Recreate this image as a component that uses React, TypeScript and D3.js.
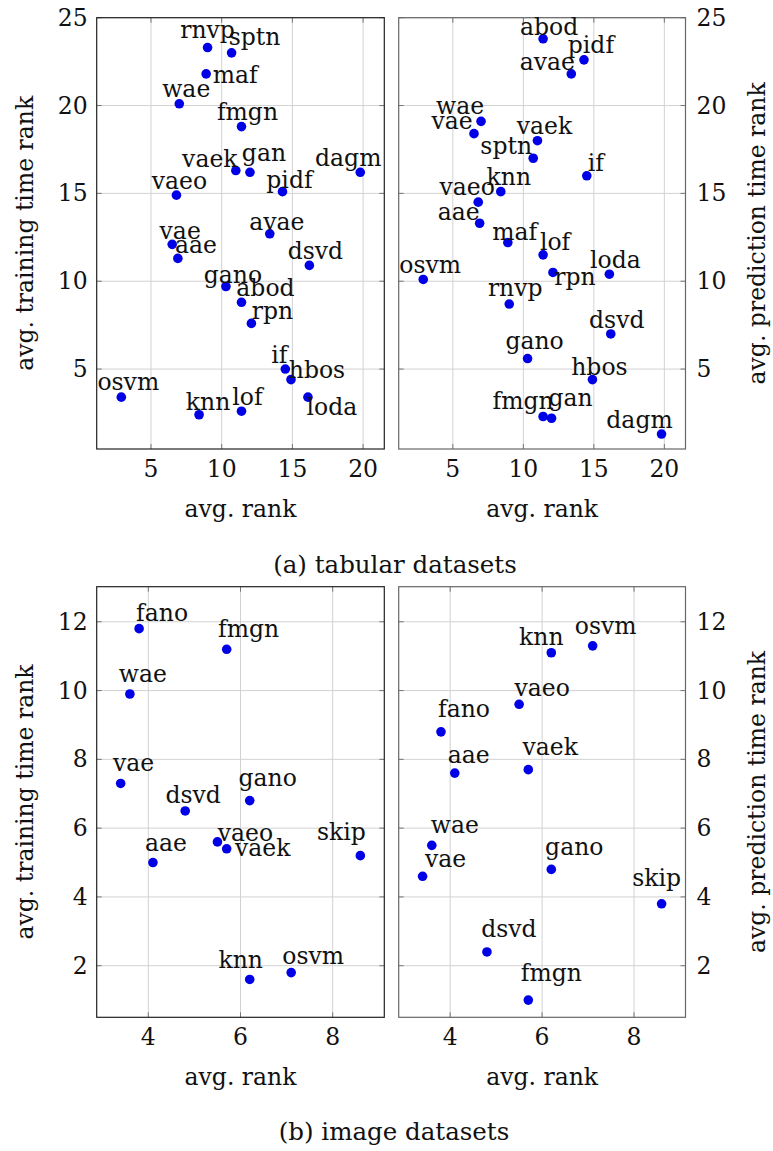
import React, { useEffect, useRef } from "react";
import * as d3 from "d3";

// tabular datasets
const tabNames = ["rnvp", "sptn", "maf", "wae", "fmgn", "vaek", "gan", "dagm", "vaeo", "pidf", "avae", "vae", "aae", "dsvd", "gano", "abod", "rpn", "if", "hbos", "loda", "osvm", "knn", "lof"];
const tabRank = [9.0, 10.7, 8.9, 7.0, 11.4, 11.0, 12.0, 19.8, 6.8, 14.3, 13.4, 6.5, 6.9, 16.2, 10.3, 11.4, 12.1, 14.5, 14.9, 16.1, 2.9, 8.4, 11.4];
const tabTrain = [23.3, 23.0, 21.8, 20.1, 18.8, 16.3, 16.2, 16.2, 14.9, 15.1, 12.7, 12.1, 11.3, 10.9, 9.7, 8.8, 7.6, 5.0, 4.4, 3.4, 3.4, 2.4, 2.6];
const tabPred = [8.7, 17.0, 12.2, 19.1, 2.3, 18.0, 2.2, 1.3, 14.5, 22.6, 21.8, 18.4, 13.3, 7.0, 5.6, 23.8, 10.5, 16.0, 4.4, 10.4, 10.1, 15.1, 11.5];
const tabXTicks = [5, 10, 15, 20];
const tabYTicks = [5, 10, 15, 20, 25];

// image datasets
const imgNames = ["fano", "fmgn", "wae", "vae", "dsvd", "gano", "vaeo", "vaek", "skip", "aae", "knn", "osvm"];
const imgRank = [3.8, 5.7, 3.6, 3.4, 4.8, 6.2, 5.5, 5.7, 8.6, 4.1, 6.2, 7.1];
const imgTrain = [11.8, 11.2, 9.9, 7.3, 6.5, 6.8, 5.6, 5.4, 5.2, 5.0, 1.6, 1.8];
const imgPred = [8.8, 1.0, 5.5, 4.6, 2.4, 4.8, 9.6, 7.7, 3.8, 7.6, 11.1, 11.3];
const imgXTicks = [4, 6, 8];
const imgYTicks = [2, 4, 6, 8, 10, 12];

// label nudges (px from the dot, text centred)
const tabTrainLbl: Record<string, number[]> = {
  rnvp: [0, -10], sptn: [23, -8], maf: [29, 9], wae: [7, -7], fmgn: [6, -7], vaek: [-26, -4], gan: [14, -11],
  dagm: [-12, -6], vaeo: [3, -6], pidf: [7, -4], avae: [7, -4], vae: [8, -5], aae: [18, -5], dsvd: [6, -6],
  gano: [7, -3], abod: [24, -6], rpn: [21, -4], if: [-6, -6], hbos: [26, -2], loda: [24, 18], osvm: [7, -7],
  knn: [9, -5], lof: [6, -6],
};
const tabPredLbl: Record<string, number[]> = {
  abod: [6, -4], pidf: [7, -7], avae: [-24, -4], wae: [-21, -7], vae: [-22, -5], vaek: [7, -7], sptn: [-27, -4],
  if: [9, -5], knn: [8, -7], vaeo: [-11, -7], aae: [-21, -3], maf: [7, -3], lof: [12, -5], loda: [6, -6],
  rpn: [22, 13], osvm: [7, -6], rnvp: [6, -8], dsvd: [6, -6], gano: [7, -10], hbos: [7, -5], fmgn: [-20, -7],
  gan: [19, -12], dagm: [-22, -6],
};
const imgTrainLbl: Record<string, number[]> = {
  fano: [23, -8], fmgn: [22, -12], wae: [13, -12], vae: [13, -12], dsvd: [8, -8], gano: [18, -15],
  vaeo: [28, -1], vaek: [36, 7], skip: [-19, -16], aae: [13, -12], knn: [-9, -11], osvm: [22, -9],
};
const imgPredLbl: Record<string, number[]> = {
  knn: [-10, -8], osvm: [13, -12], vaeo: [23, -8], fano: [23, -15], aae: [14, -10], vaek: [22, -15],
  wae: [23, -12], vae: [23, -9], gano: [23, -14], skip: [-5, -18], dsvd: [22, -15], fmgn: [23, -19],
};

const FONT = "'DejaVu Serif', serif";
const FS = 23.5;

export default function App() {
  const ref = useRef<SVGSVGElement>(null);

  useEffect(() => {
    const svg = d3.select(ref.current);
    svg.selectAll("*").remove();

    const panel = (opts: any) => {
      const { x0, x1, y0, y1, xDom, yDom, xTicks, yTicks, names, xs, ys, lbl, right, frame } = opts;
      const x = d3.scaleLinear().domain(xDom).range([x0, x1]);
      const y = d3.scaleLinear().domain(yDom).range([y1, y0]);
      const g = svg.append("g");

      // grid
      g.selectAll(".gx").data(xTicks).join("line")
        .attr("x1", (d: any) => x(d)).attr("x2", (d: any) => x(d))
        .attr("y1", y0).attr("y2", y1)
        .attr("stroke", "#d2d2d2").attr("stroke-width", 1);
      g.selectAll(".gy").data(yTicks).join("line")
        .attr("y1", (d: any) => y(d)).attr("y2", (d: any) => y(d))
        .attr("x1", x0).attr("x2", x1)
        .attr("stroke", "#d2d2d2").attr("stroke-width", 1);

      // tick marks inside on all sides
      const tl = 5;
      xTicks.forEach((t: number) => {
        g.append("line").attr("x1", x(t)).attr("x2", x(t)).attr("y1", y1).attr("y2", y1 - tl).attr("stroke", "#777");
        g.append("line").attr("x1", x(t)).attr("x2", x(t)).attr("y1", y0).attr("y2", y0 + tl).attr("stroke", "#777");
      });
      yTicks.forEach((t: number) => {
        g.append("line").attr("x1", x0).attr("x2", x0 + tl).attr("y1", y(t)).attr("y2", y(t)).attr("stroke", "#777");
        g.append("line").attr("x1", x1).attr("x2", x1 - tl).attr("y1", y(t)).attr("y2", y(t)).attr("stroke", "#777");
      });

      g.append("rect")
        .attr("x", x0).attr("y", y0).attr("width", x1 - x0).attr("height", y1 - y0)
        .attr("fill", "none").attr("stroke", frame).attr("stroke-width", 1.2);

      // tick labels
      g.selectAll(".xl").data(xTicks).join("text")
        .attr("x", (d: any) => x(d)).attr("y", y1 + 28)
        .attr("text-anchor", "middle")
        .attr("font-family", FONT).attr("font-size", FS).attr("fill", "#111")
        .text((d: any) => d);
      g.selectAll(".yl").data(yTicks).join("text")
        .attr("x", right ? x1 + 11 : x0 - 9).attr("y", (d: any) => y(d) + 8)
        .attr("text-anchor", right ? "start" : "end")
        .attr("font-family", FONT).attr("font-size", FS).attr("fill", "#111")
        .text((d: any) => d);

      g.append("text")
        .attr("x", (x0 + x1) / 2).attr("y", y1 + 68)
        .attr("text-anchor", "middle")
        .attr("font-family", FONT).attr("font-size", FS).attr("fill", "#111")
        .text("avg. rank");

      const ylab = right ? "avg. prediction time rank" : "avg. training time rank";
      const lx = right ? 765 : 33;
      g.append("text")
        .attr("transform", `translate(${lx},${(y0 + y1) / 2}) rotate(-90)`)
        .attr("text-anchor", "middle")
        .attr("font-family", FONT).attr("font-size", FS).attr("fill", "#111")
        .text(ylab);

      const pts = names.map((n: string, i: number) => ({ n, x: xs[i], y: ys[i] }));

      g.selectAll(".dot").data(pts).join("circle")
        .attr("cx", (d: any) => x(d.x)).attr("cy", (d: any) => y(d.y))
        .attr("r", 4.8).attr("fill", "#0000e6");

      g.selectAll(".lab").data(pts).join("text")
        .attr("x", (d: any) => x(d.x) + (lbl[d.n] ? lbl[d.n][0] : 0))
        .attr("y", (d: any) => y(d.y) + (lbl[d.n] ? lbl[d.n][1] : -8))
        .attr("text-anchor", "middle")
        .attr("font-family", FONT).attr("font-size", FS).attr("fill", "#111")
        .text((d: any) => d.n);
    };

    const L = [96.7, 384.3];
    const R = [398.7, 685.5];

    panel({ x0: L[0], x1: L[1], y0: 17.7, y1: 449, xDom: [1.16, 21.5], yDom: [0.45, 25], xTicks: tabXTicks, yTicks: tabYTicks, names: tabNames, xs: tabRank, ys: tabTrain, lbl: tabTrainLbl, right: false, frame: "#222" });
    panel({ x0: R[0], x1: R[1], y0: 17.7, y1: 449, xDom: [1.16, 21.5], yDom: [0.45, 25], xTicks: tabXTicks, yTicks: tabYTicks, names: tabNames, xs: tabRank, ys: tabPred, lbl: tabPredLbl, right: true, frame: "#666" });
    panel({ x0: L[0], x1: L[1], y0: 586.7, y1: 1017.3, xDom: [2.88, 9.12], yDom: [0.5, 13.02], xTicks: imgXTicks, yTicks: imgYTicks, names: imgNames, xs: imgRank, ys: imgTrain, lbl: imgTrainLbl, right: false, frame: "#222" });
    panel({ x0: R[0], x1: R[1], y0: 586.7, y1: 1017.3, xDom: [2.88, 9.12], yDom: [0.5, 13.02], xTicks: imgXTicks, yTicks: imgYTicks, names: imgNames, xs: imgRank, ys: imgPred, lbl: imgPredLbl, right: true, frame: "#666" });

    svg.append("text").attr("x", 395).attr("y", 573).attr("text-anchor", "middle")
      .attr("font-family", FONT).attr("font-size", 24.5).attr("fill", "#111")
      .text("(a) tabular datasets");
    svg.append("text").attr("x", 394).attr("y", 1140).attr("text-anchor", "middle")
      .attr("font-family", FONT).attr("font-size", 24.5).attr("fill", "#111")
      .text("(b) image datasets");
  }, []);

  return (
    <svg ref={ref} width={773} height={1151}
      style={{ position: "absolute", left: 0, top: 0, background: "#fff" }} />
  );
}
